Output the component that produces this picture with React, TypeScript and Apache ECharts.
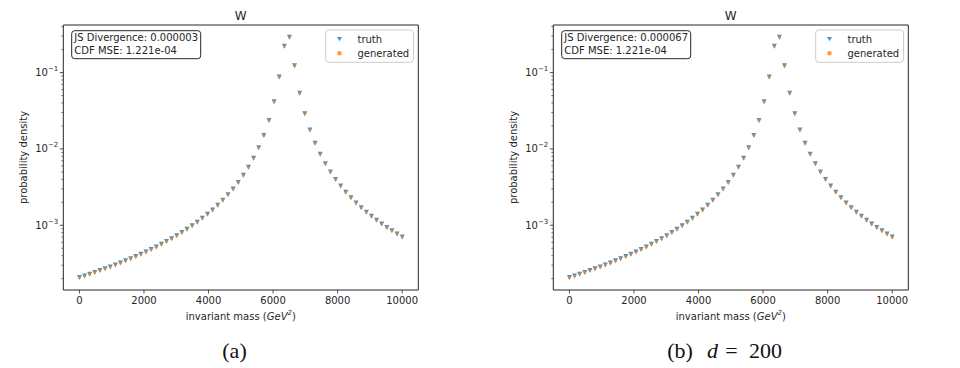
import React, { useEffect, useRef } from "react";
import * as echarts from "echarts";

const massGeV2: number[] = [
  0, 158.7, 317.5, 476.2, 634.9, 793.7, 952.4, 1111.1, 1269.8, 1428.6, 1587.3, 1746.0, 1904.8,
  2063.5, 2222.2, 2381.0, 2539.7, 2698.4, 2857.1, 3015.9, 3174.6, 3333.3, 3492.1, 3650.8, 3809.5,
  3968.3, 4127.0, 4285.7, 4444.4, 4603.2, 4761.9, 4920.6, 5079.4, 5238.1, 5396.8, 5555.6, 5714.3,
  5873.0, 6031.7, 6190.5, 6349.2, 6507.9, 6666.7, 6825.4, 6984.1, 7142.9, 7301.6, 7460.3, 7619.0,
  7777.8, 7936.5, 8095.2, 8254.0, 8412.7, 8571.4, 8730.2, 8888.9, 9047.6, 9206.3, 9365.1, 9523.8,
  9682.5, 9841.3, 10000,
];

const truthDensity: number[] = [
  2.07e-4, 2.17e-4, 2.29e-4, 2.41e-4, 2.55e-4, 2.69e-4, 2.85e-4, 3.02e-4, 3.21e-4, 3.42e-4, 3.64e-4,
  3.89e-4, 4.17e-4, 4.48e-4, 4.82e-4, 5.2e-4, 5.63e-4, 6.12e-4, 6.67e-4, 7.3e-4, 8.02e-4, 8.86e-4,
  9.83e-4, 1.097e-3, 1.232e-3, 1.394e-3, 1.589e-3, 1.829e-3, 2.128e-3, 2.505e-3, 2.99e-3, 3.64e-3,
  4.51e-3, 5.74e-3, 7.55e-3, 1.036e-2, 1.505e-2, 2.36e-2, 4.16e-2, 8.75e-2, 0.221, 0.29, 0.123,
  0.0538, 0.0288, 0.0177, 0.0119, 8.55e-3, 6.41e-3, 4.99e-3, 3.99e-3, 3.26e-3, 2.71e-3, 2.29e-3,
  1.96e-3, 1.7e-3, 1.485e-3, 1.31e-3, 1.165e-3, 1.04e-3, 9.37e-4, 8.47e-4, 7.7e-4, 7.02e-4,
];

const generatedDensity: number[] = [
  2.07e-4, 2.17e-4, 2.29e-4, 2.41e-4, 2.55e-4, 2.69e-4, 2.85e-4, 3.02e-4, 3.21e-4, 3.42e-4, 3.64e-4,
  3.89e-4, 4.17e-4, 4.48e-4, 4.82e-4, 5.2e-4, 5.63e-4, 6.12e-4, 6.67e-4, 7.3e-4, 8.02e-4, 8.86e-4,
  9.83e-4, 1.097e-3, 1.232e-3, 1.394e-3, 1.589e-3, 1.829e-3, 2.128e-3, 2.505e-3, 2.99e-3, 3.64e-3,
  4.51e-3, 5.74e-3, 7.55e-3, 1.036e-2, 1.505e-2, 2.36e-2, 4.16e-2, 8.75e-2, 0.221, 0.29, 0.123,
  0.0538, 0.0288, 0.0177, 0.0119, 8.55e-3, 6.41e-3, 4.99e-3, 3.99e-3, 3.26e-3, 2.71e-3, 2.29e-3,
  1.96e-3, 1.7e-3, 1.485e-3, 1.31e-3, 1.165e-3, 1.04e-3, 9.37e-4, 8.47e-4, 7.7e-4, 7.02e-4,
];

const xTickValues: number[] = [0, 2000, 4000, 6000, 8000, 10000];
const yMajorTicks: number[] = [1e-3, 1e-2, 1e-1];
const yMinorTicks: number[] = [
  2e-4, 3e-4, 4e-4, 5e-4, 6e-4, 7e-4, 8e-4, 9e-4,
  2e-3, 3e-3, 4e-3, 5e-3, 6e-3, 7e-3, 8e-3, 9e-3,
  2e-2, 3e-2, 4e-2, 5e-2, 6e-2, 7e-2, 8e-2, 9e-2,
  2e-1, 3e-1, 4e-1,
];
const panelTitles: string[] = ["W", "W"];
const jsDivergence: string[] = ["0.000003", "0.000067"];
const cdfMse: string[] = ["1.221e-04", "1.221e-04"];
const legendNames: string[] = ["truth", "generated"];

const FONT = "DejaVu Sans";
const SERIF = "Liberation Serif";
const INK = "#262626";
const BLUE = "#1f77b4";
const ORANGE = "#ff7f0e";

const X_MIN = -500;
const X_MAX = 10500;
const Y_MIN = 1.42e-4;
const Y_MAX = 0.42;

const PANEL_LEFT = [63.3, 553.3];
const GRID_TOP = 25;
const GRID_W = 355;
const GRID_H = 265;

function buildOption() {
  const truthPts = massGeV2.map((x, i) => [x, truthDensity[i]]);
  const genPts = massGeV2.map((x, i) => [x, generatedDensity[i]]);

  const grid = PANEL_LEFT.map((l) => ({
    left: l,
    top: GRID_TOP,
    width: GRID_W,
    height: GRID_H,
    show: true,
    borderColor: INK,
    borderWidth: 1,
    backgroundColor: "transparent",
  }));

  const xAxis = PANEL_LEFT.map((_, i) => ({
    gridIndex: i,
    type: "value",
    min: X_MIN,
    max: X_MAX,
    axisLine: { show: false },
    splitLine: { show: false },
    axisTick: { show: false },
    axisLabel: {
      customValues: xTickValues,
      margin: 5,
      fontFamily: FONT,
      fontSize: 10,
      color: INK,
      formatter: (v: number) => String(Math.round(v)),
    },
    name: "invariant mass ({i|GeV}{s|2})",
    nameLocation: "middle",
    nameGap: 19,
    nameTextStyle: {
      fontFamily: FONT,
      fontSize: 10,
      color: INK,
      lineHeight: 14,
      rich: {
        i: { fontFamily: FONT, fontSize: 10, fontStyle: "italic", color: INK, lineHeight: 14 },
        s: { fontFamily: FONT, fontSize: 7, fontStyle: "italic", color: INK, lineHeight: 14, verticalAlign: "top" },
      },
    },
  }));

  const yAxis = PANEL_LEFT.map((_, i) => ({
    gridIndex: i,
    type: "log",
    logBase: 10,
    min: Y_MIN,
    max: Y_MAX,
    position: "left",
    axisLine: { show: false },
    splitLine: { show: false },
    axisTick: { show: false },
    axisLabel: {
      customValues: yMajorTicks,
      margin: 5,
      color: INK,
      formatter: (v: number) => {
        const e = Math.round(Math.log10(v));
        return "{b|10}{s|" + (e < 0 ? "\u2212" + -e : String(e)) + "}";
      },
      rich: {
        b: { fontFamily: FONT, fontSize: 10, color: INK, lineHeight: 14 },
        s: { fontFamily: FONT, fontSize: 7, color: INK, lineHeight: 14, verticalAlign: "top" },
      },
    },
    name: "probability density",
    nameLocation: "middle",
    nameGap: 35,
    nameTextStyle: { fontFamily: FONT, fontSize: 10, color: INK },
  }));

  // tick marks drawn through the axes' own scales
  const yTickData = [
    ...yMajorTicks.map((v) => [X_MIN, v, 3.5, 0.8]),
    ...yMinorTicks.map((v) => [X_MIN, v, 2, 0.6]),
  ];
  const xTickData = xTickValues.map((v) => [v, Y_MIN, 3.5, 0.8]);

  const series: any[] = [];
  PANEL_LEFT.forEach((_, i) => {
    series.push({
      name: legendNames[0],
      type: "scatter",
      xAxisIndex: i,
      yAxisIndex: i,
      data: truthPts,
      symbol: "triangle",
      symbolRotate: 180,
      symbolSize: 5,
      itemStyle: { color: BLUE },
      z: 2,
    });
    series.push({
      name: legendNames[1],
      type: "scatter",
      xAxisIndex: i,
      yAxisIndex: i,
      data: genPts,
      symbol: "circle",
      symbolSize: 2.8,
      itemStyle: { color: ORANGE },
      z: 3,
    });
    series.push({
      name: "yTicks",
      type: "custom",
      xAxisIndex: i,
      yAxisIndex: i,
      data: yTickData,
      clip: false,
      silent: true,
      renderItem: (_p: any, api: any) => {
        const pt = api.coord([api.value(0), api.value(1)]);
        const len = api.value(2);
        return {
          type: "line",
          shape: { x1: pt[0] - len, y1: pt[1], x2: pt[0], y2: pt[1] },
          style: { stroke: INK, lineWidth: api.value(3) },
        };
      },
    });
    series.push({
      name: "xTicks",
      type: "custom",
      xAxisIndex: i,
      yAxisIndex: i,
      data: xTickData,
      clip: false,
      silent: true,
      renderItem: (_p: any, api: any) => {
        const pt = api.coord([api.value(0), api.value(1)]);
        const len = api.value(2);
        return {
          type: "line",
          shape: { x1: pt[0], y1: pt[1], x2: pt[0], y2: pt[1] + len },
          style: { stroke: INK, lineWidth: api.value(3) },
        };
      },
    });
  });

  const legend = PANEL_LEFT.map((l) => ({
    data: [
      { name: legendNames[0], icon: "path://M0,0L2,0L1,1.7Z" },
      { name: legendNames[1], icon: "circle" },
    ],
    orient: "vertical",
    left: l + 262.4,
    top: 30,
    selectedMode: false,
    symbolKeepAspect: true,
    borderColor: "#cccccc",
    borderWidth: 1,
    borderRadius: 3,
    backgroundColor: "rgba(255,255,255,0.8)",
    padding: [3, 4.4, 3, 11.3],
    itemWidth: 5,
    itemHeight: 4.5,
    itemGap: 2.3,
    textStyle: { fontFamily: FONT, fontSize: 10, color: INK, lineHeight: 12, padding: [0, 0, 0, 10.5] },
  }));

  const graphic: any[] = [];
  PANEL_LEFT.forEach((l, i) => {
    graphic.push({
      type: "text",
      x: l + GRID_W / 2,
      y: 15.7,
      style: { text: panelTitles[i], fontFamily: FONT, fontSize: 12, fill: INK, align: "center", verticalAlign: "middle" },
    });
    graphic.push({
      type: "rect",
      shape: { x: l + 8.4, y: 30.7, width: 129, height: 28, r: 3 },
      style: { fill: "#ffffff", stroke: INK, lineWidth: 1 },
      z: 10,
    });
    graphic.push({
      type: "text",
      x: l + 11,
      y: 31.6,
      z: 11,
      style: {
        text: "JS Divergence: " + jsDivergence[i] + "\nCDF MSE: " + cdfMse[i],
        fontFamily: FONT,
        fontSize: 10,
        lineHeight: 12.3,
        fill: INK,
        align: "left",
        verticalAlign: "top",
      },
    });
  });

  const capStyle = { fontFamily: SERIF, fontSize: 22, fill: "#111", verticalAlign: "middle" };
  graphic.push({ type: "text", x: 234.5, y: 350.5, style: { ...capStyle, text: "(a)", align: "center" } });
  graphic.push({ type: "text", x: 680, y: 350.5, style: { ...capStyle, text: "(b)", align: "center" } });
  graphic.push({ type: "text", x: 712.5, y: 350.5, style: { ...capStyle, text: "d", fontStyle: "italic", align: "center" } });
  graphic.push({ type: "text", x: 731.5, y: 350.5, style: { ...capStyle, text: "=", align: "center" } });
  graphic.push({ type: "text", x: 765.5, y: 350.5, style: { ...capStyle, text: "200", align: "center" } });

  return {
    animation: false,
    backgroundColor: "#ffffff",
    grid,
    xAxis,
    yAxis,
    series,
    legend,
    graphic,
  };
}

export default function App() {
  const ref = useRef<HTMLDivElement>(null);
  useEffect(() => {
    if (!ref.current) return;
    const chart = echarts.init(ref.current, undefined, { renderer: "svg" });
    chart.setOption(buildOption() as any);
    return () => chart.dispose();
  }, []);
  return (
    <div
      ref={ref}
      style={{ position: "absolute", left: 0, top: 0, width: 960, height: 368, background: "#fff" }}
    />
  );
}
